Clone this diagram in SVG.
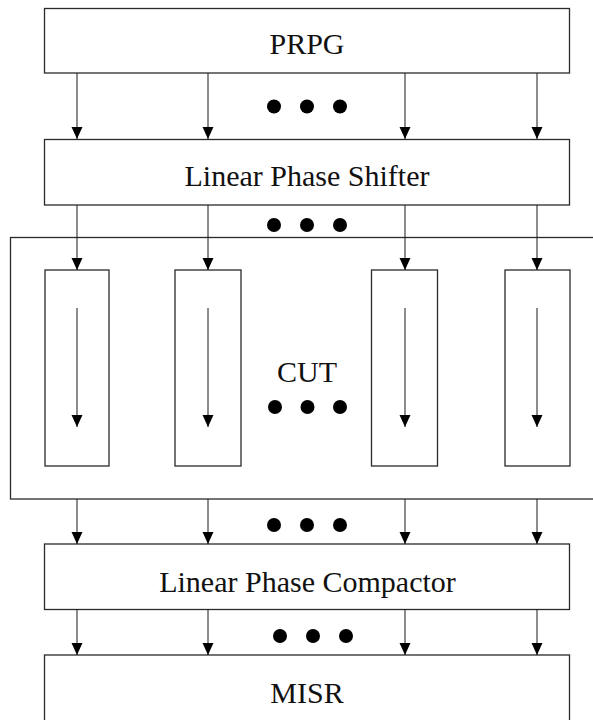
<svg xmlns="http://www.w3.org/2000/svg" width="593" height="720" viewBox="0 0 593 720">
  <style>
    .box { fill: #fff; stroke: #2a2a2a; stroke-width: 1.3; }
    .cut { fill: none; stroke: #2a2a2a; stroke-width: 1.3; }
    .wire { stroke: #1a1a1a; stroke-width: 1; fill: none; marker-end: url(#head); }
    .lbl { font-family: "Liberation Serif", "Times New Roman", serif; font-size: 30px; fill: #111; text-anchor: middle; }
    .dot { fill: #000; }
  </style>
  <defs>
    <!-- filled triangular arrowhead, tip at the end of the line -->
    <marker id="head" markerUnits="userSpaceOnUse" markerWidth="13" markerHeight="12" refX="12.5" refY="6" orient="auto" viewBox="0 0 13 12">
      <path d="M0,0.3 L12.5,6 L0,11.7 Z" fill="#000"/>
    </marker>
  </defs>
  <rect width="593" height="720" fill="#fff"/>

  <!-- circuit under test enclosure -->
  <g id="cut">
    <rect class="cut" x="10.5" y="237.5" width="600" height="261.5"/>
    <text class="lbl" x="307" y="382">CUT</text>
    <circle class="dot" cx="275" cy="407" r="7"/>
    <circle class="dot" cx="307.5" cy="407" r="7"/>
    <circle class="dot" cx="340" cy="407" r="7"/>
  </g>

  <g id="prpg">
    <rect class="box" x="44.5" y="8.5" width="525" height="64.5"/>
    <text class="lbl" x="307" y="54">PRPG</text>
  </g>

  <g id="shifter">
    <rect class="box" x="44.5" y="139.5" width="525" height="65.5"/>
    <text class="lbl" x="307" y="186">Linear Phase Shifter</text>
  </g>

  <g id="chain1"><rect class="box" x="45" y="270" width="64" height="196"/></g>
  <g id="chain2"><rect class="box" x="175" y="270" width="66" height="196"/></g>
  <g id="chain3"><rect class="box" x="371.5" y="270" width="66" height="196"/></g>
  <g id="chain4"><rect class="box" x="505" y="270" width="65" height="196"/></g>

  <g id="compactor">
    <rect class="box" x="44.5" y="544" width="525" height="65.5"/>
    <text class="lbl" x="307.5" y="592">Linear Phase Compactor</text>
  </g>

  <g id="misr">
    <rect class="box" x="44.5" y="655" width="525" height="80"/>
    <text class="lbl" x="307" y="703">MISR</text>
  </g>

  <!-- ellipsis dots between channel rows -->
  <g id="ellipses">
    <circle class="dot" cx="274" cy="106.5" r="7"/>
    <circle class="dot" cx="307" cy="106.5" r="7"/>
    <circle class="dot" cx="340" cy="106.5" r="7"/>
    <circle class="dot" cx="274" cy="225" r="7"/>
    <circle class="dot" cx="307" cy="225" r="7"/>
    <circle class="dot" cx="340" cy="225" r="7"/>
    <circle class="dot" cx="274" cy="525" r="7"/>
    <circle class="dot" cx="307" cy="525" r="7"/>
    <circle class="dot" cx="340" cy="525" r="7"/>
    <circle class="dot" cx="280" cy="636" r="7"/>
    <circle class="dot" cx="313" cy="636" r="7"/>
    <circle class="dot" cx="346" cy="636" r="7"/>
  </g>

  <g id="connectors">
    <!-- PRPG to phase shifter -->
    <path class="wire" d="M77,73 V139"/>
    <path class="wire" d="M208,73 V139"/>
    <path class="wire" d="M405,73 V139"/>
    <path class="wire" d="M537,73 V139"/>
    <!-- phase shifter to scan chains -->
    <path class="wire" d="M77,205 V270"/>
    <path class="wire" d="M208,205 V270"/>
    <path class="wire" d="M405,205 V270"/>
    <path class="wire" d="M537,205 V270"/>
    <!-- shift direction inside chains -->
    <path class="wire" d="M77,308 V427"/>
    <path class="wire" d="M208,308 V427"/>
    <path class="wire" d="M405,308 V427"/>
    <path class="wire" d="M537,308 V427"/>
    <!-- CUT to compactor -->
    <path class="wire" d="M77,499 V544"/>
    <path class="wire" d="M208,499 V544"/>
    <path class="wire" d="M405,499 V544"/>
    <path class="wire" d="M537,499 V544"/>
    <!-- compactor to MISR -->
    <path class="wire" d="M77,609.5 V655"/>
    <path class="wire" d="M208,609.5 V655"/>
    <path class="wire" d="M405,609.5 V655"/>
    <path class="wire" d="M537,609.5 V655"/>
  </g>
</svg>
